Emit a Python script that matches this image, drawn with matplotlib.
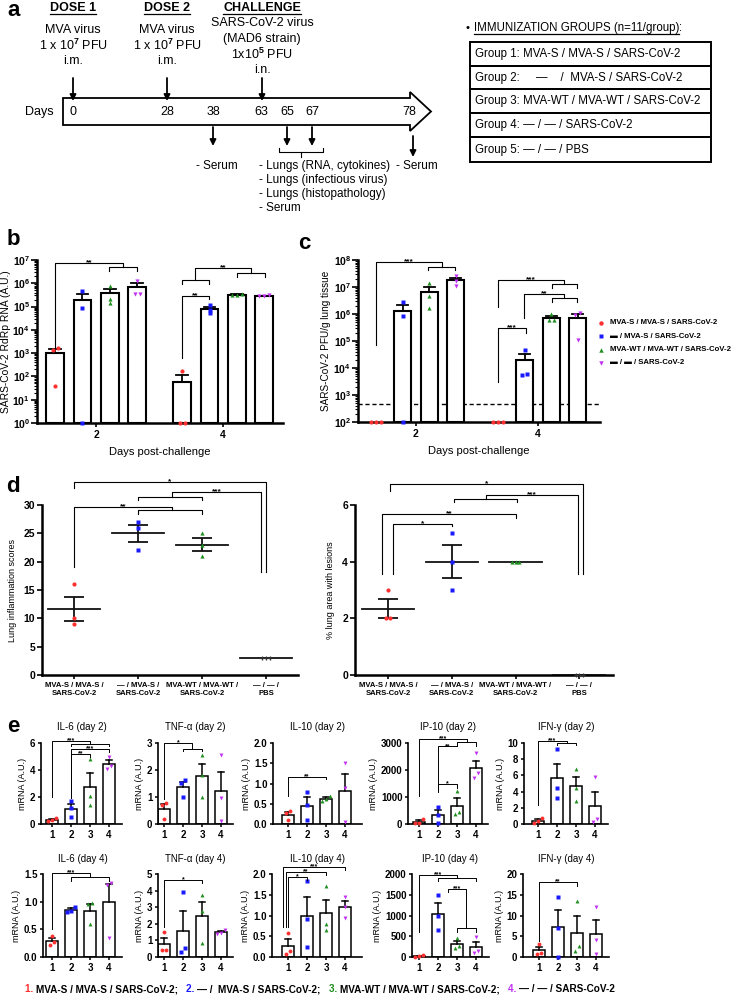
import matplotlib
matplotlib.use('Agg')
import matplotlib.pyplot as plt
from matplotlib.patches import Polygon, Rectangle
import numpy as np

plt.rcParams['font.family'] = ['Liberation Sans', 'DejaVu Sans']
plt.rcParams['font.weight'] = 'bold'
plt.rcParams['mathtext.fontset'] = 'custom'
plt.rcParams['mathtext.rm'] = 'Liberation Sans'
plt.rcParams['mathtext.bf'] = 'Liberation Sans:bold'
plt.rcParams['axes.linewidth'] = 1.4
plt.rcParams['xtick.major.width'] = 1.2
plt.rcParams['ytick.major.width'] = 1.2

W, H = 732, 998
RED, BLUE, GREEN, MAG = '#ff3030', '#1a1aff', '#1f8f1f', '#c030f0'
COLORS = [RED, BLUE, GREEN, MAG]
MARKERS = ['o', 's', '^', 'v']

# ---------------- data ----------------
day_labels = ['0', '28', '38', '63', '65', '67', '78']
group_rows = ['Group 1: MVA-S / MVA-S / SARS-CoV-2',
              'Group 2:     \u2014    /  MVA-S / SARS-CoV-2',
              'Group 3: MVA-WT / MVA-WT / SARS-CoV-2',
              'Group 4: \u2014 / \u2014 / SARS-CoV-2',
              'Group 5: \u2014 / \u2014 / PBS']
legend_labels = ['MVA-S / MVA-S / SARS-CoV-2', '\u25ac / MVA-S / SARS-CoV-2',
                 'MVA-WT / MVA-WT / SARS-CoV-2', '\u25ac / \u25ac / SARS-CoV-2']
challenge_days = [2, 4]

# b) SARS-CoV-2 RdRp RNA (A.U.), 0 = not detected
rna_d2 = [[1700, 1300, 40], [4.7e5, 0.9e5, 0], [7.6e5, 2.1e5, 1.4e5], [1.3e6, 3.6e5, 3.4e5]]
rna_d4 = [[170, 0, 0], [1.15e5, 7e4, 5.2e4], [3.5e5, 3.2e5, 3.0e5], [3.0e5, 2.9e5, 2.8e5]]

# c) SARS-CoV-2 PFU/g lung tissue, 0 = not detected
pfu_d2 = [[0, 0, 0], [2.9e6, 8.7e5, 0], [1.35e7, 4.8e6, 1.7e6], [2.5e7, 1.7e7, 1.05e7]]
pfu_d4 = [[0, 0, 0], [4.8e4, 6.1e3, 5.6e3], [1.0e6, 6.2e5, 6.0e5], [1.1e6, 9.5e5, 1.1e5]]
pfu_limit = 470

# d) histopathology
d_categories = ['MVA-S / MVA-S /\nSARS-CoV-2', '\u2014 / MVA-S /\nSARS-CoV-2',
                'MVA-WT / MVA-WT /\nSARS-CoV-2', '\u2014 / \u2014 /\nPBS']
lung_scores = [[16, 10, 9], [27, 26, 22], [25, 23, 21], [3, 3, 3]]
lesion_area = [[3, 2, 2], [5, 4, 3], [4, 4, 4], [0, 0, 0]]

# e) cytokine mRNA (A.U.)
il6_d2 = [[0.45, 0.3, 0.25], [1.7, 1.2, 0.5], [4.8, 2.1, 1.4], [5.0, 4.3, 4.1]]
tnf_d2 = [[0.77, 0.7, 0.2], [1.62, 1.52, 1.0], [2.55, 1.8, 1.0], [2.57, 0.95, 0.1]]
il10_d2 = [[0.33, 0.26, 0.1], [0.8, 0.46, 0.11], [0.68, 0.62, 0.56], [1.51, 0.9, 0.05]]
ip10_d2 = [[190, 30, 20], [620, 350, 20], [1220, 450, 370], [2620, 1880, 1700]]
ifng_d2 = [[0.7, 0.35, 0.15], [9.2, 4.5, 3.27], [6.73, 4.5, 2.9], [5.76, 0.6, 0.25]]
il6_d4 = [[0.38, 0.27, 0.22], [0.9, 0.84, 0.82], [0.97, 0.95, 0.59], [1.34, 1.3, 0.34]]
tnf_d4 = [[1.48, 0.45, 0.4], [3.9, 0.55, 0.3], [3.74, 2.8, 0.85], [1.65, 1.45, 1.4]]
il10_d4 = [[0.59, 0.15, 0.08], [1.82, 0.91, 0.24], [1.7, 0.8, 0.65], [1.44, 1.2, 0.95]]
ip10_d4 = [[40, 15, 10], [1500, 996, 648], [460, 260, 210], [490, 150, 90]]
ifng_d4 = [[3.1, 1.0, 0.8], [14.5, 6.9, 0.1], [13.6, 2.67, 1.38], [12, 4.2, 0.7]]
cyto_data = [il6_d2, tnf_d2, il10_d2, ip10_d2, ifng_d2, il6_d4, tnf_d4, il10_d4, ip10_d4, ifng_d4]
cyto_titles = ['IL-6 (day 2)', 'TNF-\u03b1 (day 2)', 'IL-10 (day 2)', 'IP-10 (day 2)', 'IFN-\u03b3 (day 2)',
               'IL-6 (day 4)', 'TNF-\u03b1 (day 4)', 'IL-10 (day 4)', 'IP-10 (day 4)', 'IFN-\u03b3 (day 4)']
cyto_ymax = [6, 3, 2, 3000, 10, 1.5, 5, 2, 2000, 20]
cyto_ystep = [2, 1, 0.5, 1000, 2, 0.5, 1, 0.5, 500, 5]
group_ids = ['1', '2', '3', '4']

# significance brackets: (x1, x2, y, leg1_end, leg2_end, label)
b_brackets = [(1.354, 2.425, 7.4e6, 1.8e3, 5.0e6, '**'), (2.205, 2.646, 5.0e6, 3.3e6, 3.3e6, ''),
              (3.56, 4.43, 4.5e6, 1.4e6, 2.75e6, '**'), (3.35, 3.78, 1.4e6, 9.3e5, 9.3e5, ''),
              (4.22, 4.65, 2.75e6, 1.9e6, 1.9e6, ''), (3.35, 3.78, 2.8e5, 620, 2.1e5, '**')]
c_brackets = [(1.344, 2.426, 8.5e7, 7e4, 5.5e7, '***'), (2.197, 2.64, 5.5e7, 4.3e7, 4.3e7, ''),
              (3.344, 4.426, 1.8e7, 1.8e6, 1.3e7, '***'), (4.23, 4.64, 1.3e7, 9.1e6, 9.1e6, ''),
              (3.77, 4.426, 5.5e6, 7e5, 3.9e6, '**'), (4.23, 4.64, 3.9e6, 2.75e6, 2.75e6, ''),
              (3.344, 3.80, 3.0e5, 3.0e3, 2.0e5, '***')]
dl_brackets = [(0, 3, 34, 33, 18.2, '*'), (1.53, 2.92, 32.3, 31.4, 18.2, '***'), (1, 2, 31.4, 30.9, 30.9, ''),
               (0, 1.53, 29.6, 19, 29.1, '**'), (1, 2, 29.1, 28.4, 28.4, '')]
dr_brackets = [(0.03, 3.06, 6.75, 6.5, 3.57, '*'), (1.53, 2.98, 6.36, 6.22, 3.57, '***'),
               (1.03, 2.03, 6.22, 6.1, 6.1, ''), (-0.09, 2.0, 5.69, 3.57, 5.55, '**'),
               (0.08, 1.0, 5.34, 3.57, 5.27, '*')]
e_brackets = [
    [(1, 3, 6.13, 2.03, 5.96, '***'), (2, 4, 5.96, 5.78, 5.78, ''), (2, 4, 5.55, 1.9, 5.35, '***'),
     (2, 3, 5.2, 1.9, 4.95, '**')],
    [(1, 2.5, 3.0, 0.93, 2.79, '*'), (2, 3, 2.79, 2.7, 2.7, '')],
    [(1, 3, 1.17, 0.68, 1.11, '**')],
    [(1, 3.5, 3160, 1050, 3035, '***'), (3, 4, 3035, 2876, 2876, ''), (2, 3, 2876, 1250, 2876, '**'),
     (2, 3, 1480, 1200, 1320, '*')],
    [(1, 2.5, 10.3, 2.37, 10.05, '***'), (2, 3, 10.05, 9.7, 9.7, '')],
    [(1, 3, 1.52, 0.5, 1.45, '***'), (2, 4, 1.45, 1.37, 1.37, '')],
    [(1, 3, 4.66, 1.82, 4.45, '*')],
    [(0.75, 4, 2.17, 0.73, 2.1, '***'), (0.87, 3, 2.06, 0.73, 1.98, '**'), (1, 2, 1.93, 0.73, 1.85, '*')],
    [(1, 3, 1968, 607, 1903, '***'), (2, 4, 1903, 1838, 1838, ''), (2.55, 3.5, 1635, 1560, 688, '***'),
     (3, 4, 688, 607, 607, '')],
    [(1, 3, 18, 3.8, 17.2, '**')],
]


def px_rect(x0, y0, x1, y1):
    return [x0 / W, 1 - y1 / H, (x1 - x0) / W, (y1 - y0) / H]


def swarm(vals, tol, dx):
    vals = np.asarray(vals, float)
    order = np.argsort(vals)
    clusters = [[order[0]]]
    for i in order[1:]:
        if vals[i] - vals[clusters[-1][-1]] < tol:
            clusters[-1].append(i)
        else:
            clusters.append([i])
    offs = np.zeros(len(vals))
    for c in clusters:
        for j, idx in enumerate(c):
            offs[idx] = (j - (len(c) - 1) / 2) * dx
    return offs


def bracket(ax, x1, x2, y, e1, e2, label, lw=0.8, fs=6):
    ax.plot([x1, x1, x2, x2], [e1, y, y, e2], color='k', lw=lw, clip_on=False, zorder=5)
    if label:
        ax.annotate(label, ((x1 + x2) / 2, y), xytext=(0, -1), textcoords='offset points',
                    ha='center', va='baseline', fontsize=fs, annotation_clip=False)


def style(ax, lw=1.4):
    ax.patch.set_visible(False)
    for s in ['top', 'right']:
        ax.spines[s].set_visible(False)
    for s in ['left', 'bottom']:
        ax.spines[s].set_linewidth(lw)


fig = plt.figure(figsize=(W / 100, H / 100), dpi=100)

# ---------------- panel a ----------------
ov = fig.add_axes([0, 0, 1, 1])
ov.set_xlim(0, W)
ov.set_ylim(H, 0)
ov.axis('off')


def txt(x, y, s, **kw):
    kw.setdefault('fontsize', 9)
    kw.setdefault('weight', 'normal')
    kw.setdefault('ha', 'center')
    kw.setdefault('va', 'center')
    return ov.text(x, y, s, **kw)


underlined = []
for x, head, lines in [(73, 'DOSE 1', ['MVA virus', '1 x 10$^7$ PFU', 'i.m.']),
                       (167, 'DOSE 2', ['MVA virus', '1 x 10$^7$ PFU', 'i.m.'])]:
    underlined.append(txt(x, 8, head, weight='bold'))
    for i, s in enumerate(lines):
        txt(x, 30 + i * 15.5, s)
underlined.append(txt(262, 8, 'CHALLENGE', weight='bold'))
for i, s in enumerate(['SARS-CoV-2 virus', '(MAD6 strain)', '1x10$^5$ PFU', 'i.n.']):
    txt(262, 23 + i * 15.5, s)

ov.add_patch(Polygon([(63, 98), (410, 98), (410, 92), (431, 111.5), (410, 131), (410, 125), (63, 125)],
                     closed=True, fc='white', ec='k', lw=1.3))
txt(39, 112, 'Days')
day_x = [73, 167, 213, 261, 287, 312, 409]
for x, s in zip(day_x, day_labels):
    txt(x, 112, s)

arrow_kw = dict(arrowstyle='-|>', color='k', lw=1.3, mutation_scale=9, shrinkA=0, shrinkB=0)
for x in [73, 167, 262]:
    ov.annotate('', xy=(x, 101), xytext=(x, 78), arrowprops=arrow_kw)
for x in [213, 287, 312]:
    ov.annotate('', xy=(x, 146), xytext=(x, 127), arrowprops=arrow_kw)
ov.annotate('', xy=(413, 157), xytext=(413, 136), arrowprops=arrow_kw)
ov.plot([279, 279, 323, 323], [148, 152, 152, 148], color='k', lw=0.8)
ov.plot([301, 301], [152, 157], color='k', lw=0.8)

txt(217, 166, '- Serum', fontsize=8.5)
txt(417, 166, '- Serum', fontsize=8.5)
for i, s in enumerate(['- Lungs (RNA, cytokines)', '- Lungs (infectious virus)',
                       '- Lungs (histopathology)', '- Serum']):
    txt(259, 166 + i * 14, s, ha='left', fontsize=8.5)

txt(466, 28, '\u2022', ha='left', fontsize=8)
imm = txt(474, 28, 'IMMUNIZATION GROUPS (n=11/group)', ha='left', fontsize=8.3)
underlined.append(imm)
ov.annotate(':', xy=(1, 0.5), xycoords=imm, ha='left', va='center', fontsize=8.3, weight='normal')
row_edges = [42, 66, 89, 113, 137, 162]
for i, s in enumerate(group_rows):
    ov.add_patch(Rectangle((470, row_edges[i]), 241, row_edges[i + 1] - row_edges[i],
                           fc='none', ec='k', lw=1.4))
    txt(475, (row_edges[i] + row_edges[i + 1]) / 2, s, ha='left', fontsize=8.3)

for lab, x, y in [('a', 14, 10), ('b', 13, 239), ('c', 304, 243), ('d', 13, 486), ('e', 13, 727)]:
    txt(x, y, lab, weight='bold', fontsize=16)

# ---------------- panel b / c (log bars) ----------------


def log_bar_panel(ax, day_sets, floor, spacing, width):
    for gi, day in enumerate(challenge_days):
        for k in range(4):
            vals = np.array(day_sets[gi][k], float)
            m = vals.mean()
            s = vals.std(ddof=1) / np.sqrt(len(vals))
            x = day + (k - 1.5) * spacing
            if m > floor:
                ax.bar(x, m - floor, bottom=floor, width=width, fc='white', ec='k', lw=1.5, zorder=2)
                ax.plot([x, x], [m, m + s], color='k', lw=1.3, zorder=3)
                ax.plot([x - width * 0.33, x + width * 0.33], [m + s, m + s], color='k', lw=1.3, zorder=3)
            shown = np.where(vals > floor, vals, floor)
            offs = swarm(np.log10(shown), 0.12, 0.08)
            ax.plot(x + offs, shown, ls='none', marker=MARKERS[k], color=COLORS[k], ms=3,
                    mec='none', clip_on=False, zorder=4)


def log_axes_style(ax, lo, hi):
    ax.set_yscale('log')
    ax.set_ylim(10.0 ** lo, 10.0 ** hi)
    ax.set_yticks([10.0 ** k for k in range(lo, hi + 1)])
    ax.set_yticklabels([r'$\mathbf{10^{%d}}$' % k for k in range(lo, hi + 1)], fontsize=7.5)
    ax.yaxis.set_minor_locator(matplotlib.ticker.LogLocator(base=10, subs=np.arange(2, 10), numticks=20))
    ax.yaxis.set_minor_formatter(matplotlib.ticker.NullFormatter())
    ax.tick_params(axis='y', which='major', length=4, width=1.2, pad=1)
    ax.tick_params(axis='y', which='minor', length=2, width=0.8)
    ax.set_xticks(challenge_days)
    ax.set_xticklabels([str(d) for d in challenge_days], fontsize=7.5)
    ax.tick_params(axis='x', length=3, width=1.2, pad=2)
    ax.set_xlabel('Days post-challenge', fontsize=8, labelpad=5)
    style(ax, 1.8)


axb = fig.add_axes(px_rect(37, 260, 283, 423))
axb.set_xlim(1.07, 4.94)
log_bar_panel(axb, [rna_d2, rna_d4], 1.0, 0.43, 0.28)
log_axes_style(axb, 0, 7)
axb.set_ylabel('SARS-CoV-2 RdRp RNA (A.U.)', fontsize=7.4, labelpad=1)
for br in b_brackets:
    bracket(axb, *br)

axc = fig.add_axes(px_rect(358, 260, 600, 422))
axc.set_xlim(1.05, 5.02)
log_bar_panel(axc, [pfu_d2, pfu_d4], 100.0, 0.437, 0.28)
log_axes_style(axc, 2, 8)
axc.axhline(pfu_limit, color='k', lw=1.0, ls=(0, (3, 2)), zorder=1)
axc.set_ylabel('SARS-CoV-2 PFU/g lung tissue', fontsize=7.2, labelpad=2)
for br in c_brackets:
    bracket(axc, *br)

for k, lab in enumerate(legend_labels):
    y = 323 + k * 13.3
    ov.plot(601, y, marker=MARKERS[k], color=COLORS[k], ms=3.2, mec='none', zorder=10)
    txt(610, y, lab, ha='left', fontsize=5.6, weight='bold')

# ---------------- panel d ----------------


def dot_panel(ax, data, ymax, ystep, ylabel, tol, brackets):
    for k, vals in enumerate(data):
        vals = np.array(vals, float)
        m = vals.mean()
        s = vals.std(ddof=1) / np.sqrt(len(vals))
        ax.plot([k - 0.41, k + 0.41], [m, m], color='#111111', lw=1.3, zorder=3)
        if s > 0:
            ax.errorbar(k, m, yerr=s, fmt='none', ecolor='#111111', elinewidth=1.3,
                        capsize=7.5, capthick=1.3, zorder=3)
        offs = swarm(vals, tol, 0.055)
        if k < 3:
            ax.plot(k + offs, vals, ls='none', marker=MARKERS[k], color=COLORS[k], ms=3,
                    mec='none', clip_on=False, zorder=4)
        else:
            ax.plot(k + offs, vals, ls='none', marker='+', color='#333333', ms=3.2, mew=0.9,
                    clip_on=False, zorder=4)
    ax.set_ylim(0, ymax)
    ax.set_yticks(np.arange(0, ymax + 0.01, ystep))
    ax.set_yticklabels(['%d' % v for v in np.arange(0, ymax + 0.01, ystep)], fontsize=7.5)
    ax.set_xticks(range(4))
    ax.set_xticklabels(d_categories, fontsize=5.5, linespacing=1.3)
    ax.tick_params(axis='y', length=3.5, width=1.2, pad=1.5)
    ax.tick_params(axis='x', length=3, width=1.2, pad=2)
    ax.set_ylabel(ylabel, fontsize=6.5, labelpad=5)
    style(ax, 1.8)
    for br in brackets:
        bracket(ax, *br)


axdl = fig.add_axes(px_rect(42, 505, 298, 675))
axdl.set_xlim(-0.5, 3.5)
dot_panel(axdl, lung_scores, 30, 5, 'Lung inflammation scores', 0.6, dl_brackets)

axdr = fig.add_axes(px_rect(355, 505, 613, 675))
axdr.set_xlim(-0.52, 3.53)
dot_panel(axdr, lesion_area, 6, 2, '% lung area with lesions', 0.12, dr_brackets)

# ---------------- panel e ----------------
e_cols = [(41, 52, 122), (158, 164, 233), (273, 288, 362), (408, 419, 488), (524, 538, 608),
          (43, 52, 122), (158, 164, 233), (272, 288, 362), (412, 419, 489), (523, 539, 609)]
e_rows = [(743, 824), (874, 957)]
spacing_px = 19.0

for i, pts in enumerate(cyto_data):
    ax_x, bar1, end = e_cols[i]
    top, bot = e_rows[i // 5]
    ax = fig.add_axes(px_rect(ax_x, top, end, bot))
    ax.set_xlim(1 - (bar1 - ax_x) / spacing_px, 4 + (end - bar1 - 3 * spacing_px) / spacing_px)
    ymax = cyto_ymax[i]
    x = np.arange(1, 5)
    means = np.array([np.mean(p) for p in pts])
    sems = np.array([np.std(p, ddof=1) / np.sqrt(len(p)) for p in pts])
    ax.bar(x, means, width=0.58, fc='white', ec='k', lw=1.1, zorder=2)
    for k in range(4):
        ax.plot([x[k], x[k]], [means[k], means[k] + sems[k]], color='k', lw=1.1, zorder=3)
        ax.plot([x[k] - 0.18, x[k] + 0.18], [means[k] + sems[k]] * 2, color='k', lw=1.1, zorder=3)
        offs = swarm(pts[k], 0.07 * ymax, 0.2)
        ax.plot(x[k] + offs, pts[k], ls='none', marker=MARKERS[k], color=COLORS[k], ms=2.8,
                mec='none', clip_on=False, zorder=4)
    ax.set_ylim(0, ymax)
    ticks = np.arange(0, ymax + 1e-9, cyto_ystep[i])
    ax.set_yticks(ticks)
    fmt = '%.1f' if cyto_ystep[i] < 1 else '%d'
    ax.set_yticklabels([fmt % v for v in ticks], fontsize=7)
    ax.set_xticks(x)
    ax.set_xticklabels(group_ids, fontsize=7)
    ax.tick_params(length=2.5, width=1.1, pad=1.5)
    ax.set_title(cyto_titles[i], fontsize=7, pad=9)
    ax.set_ylabel('mRNA (A.U.)', fontsize=6.5, labelpad=2)
    style(ax, 1.2)
    for br in e_brackets[i]:
        bracket(ax, *br, lw=0.7, fs=5)

# bottom legend
pieces = [('1. ', RED), ('MVA-S / MVA-S / SARS-CoV-2;   ', 'k'), ('2. ', BLUE),
          ('\u2014 /  MVA-S / SARS-CoV-2;   ', 'k'), ('3. ', GREEN),
          ('MVA-WT / MVA-WT / SARS-CoV-2;   ', 'k'), ('4. ', MAG), ('\u2014 / \u2014 / SARS-CoV-2', 'k')]
prev = txt(25, 992, pieces[0][0], ha='left', va='baseline', fontsize=7.2, weight='bold', color=pieces[0][1])
for s, c in pieces[1:]:
    prev = ov.annotate(s, xy=(1, 0), xycoords=prev, ha='left', va='bottom', fontsize=7.2,
                       weight='bold', color=c)

# underline headers
fig.canvas.draw()
inv = ov.transData.inverted()
for t in underlined:
    bb = t.get_window_extent()
    (x0, y0), (x1, y1) = inv.transform([(bb.x0, bb.y0), (bb.x1, bb.y1)])
    ov.plot([x0, x1], [y0 - 0.5, y0 - 0.5], color='k', lw=0.9)

fig.savefig('out.png', dpi=100)
